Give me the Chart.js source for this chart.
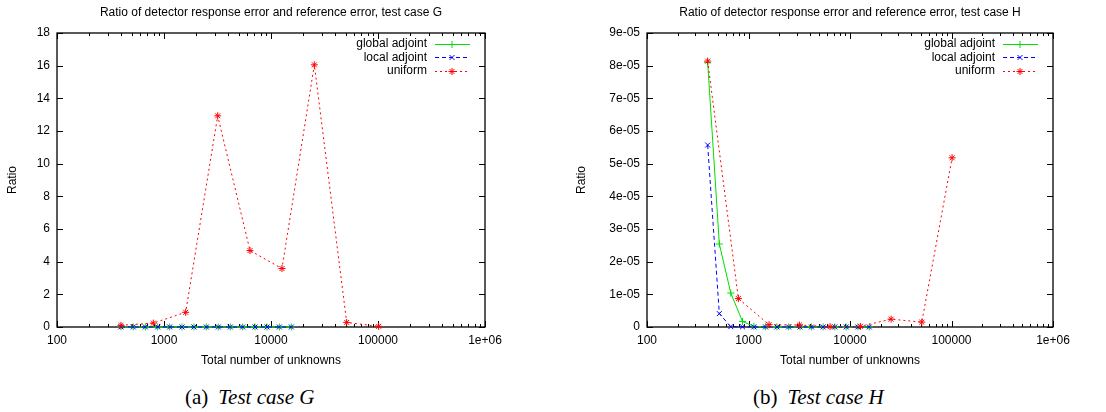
<!DOCTYPE html>
<html lang="en">
<head>
  <meta charset="UTF-8" />
  <title>Ratio of detector response error and reference error</title>
  <script src="https://cdn.jsdelivr.net/npm/chart.js"></script>
  <style>
    body {
      margin: 0;
      background: #ffffff;
      width: 1106px;
      height: 412px;
      position: relative;
      overflow: hidden;
    }

    .panel {
      position: absolute;
      top: 0;
      width: 553px;
      height: 375px;
    }

    .caption {
      position: absolute;
      top: 385px;
      font-family: "Liberation Serif", "DejaVu Serif", serif;
      font-size: 21px;
      line-height: 24px;
      color: #000;
      white-space: nowrap;
    }

    .caption i {
      margin-left: 10px;
    }
  </style>
</head>

<body>

<div class="panel" style="left: 0;">
  <canvas id="chartG" width="553" height="375"></canvas>
</div>
<div class="panel" style="left: 553px;">
  <canvas id="chartH" width="553" height="375"></canvas>
</div>

<div class="caption" style="left: 185px;">(a)<i>Test case G</i></div>
<div class="caption" style="left: 753px;">(b)<i>Test case H</i></div>

<script>
  const FONT = "'Liberation Sans', Arial, sans-serif";

  // total number of unknowns (x)
  const adjointUnknowns = [396, 516, 669, 873, 1130, 1473, 1906, 2487, 3219, 4169, 5436, 7087, 9178, 11968, 15488];
  const uniformUnknowns = [396, 795, 1594, 3176, 6364, 12670, 25410, 50970, 101400];

  // test case G ratios
  const gGlobal = [0.004, 0.003, 0.003, 0.002, 0.002, 0.002, 0.002, 0.002, 0.001, 0.001, 0.001, 0.001, 0.001, 0.001, 0.001];
  const gLocal = [0.004, 0.003, 0.003, 0.002, 0.002, 0.002, 0.002, 0.001, 0.001, 0.001, 0.001, 0.001, 0.001, 0.001, 0.001];
  const gUniform = [0.1, 0.24, 0.9, 12.93, 4.68, 3.58, 16.05, 0.28, 0.04];

  // test case H ratios
  const hGlobal = [8.1e-5, 2.54e-5, 1.04e-5, 1.7e-6, 2e-7, 6e-8, 4e-8, 3e-8, 2e-8, 2e-8, 1e-8, 1e-8, 1e-8, 1e-8, 1e-8];
  const hLocal = [5.57e-5, 4.1e-6, 1e-7, 5e-8, 3e-8, 2e-8, 2e-8, 1e-8, 1e-8, 1e-8, 1e-8, 1e-8, 1e-8, 1e-8, 1e-8];
  const hUniform = [8.14e-5, 8.7e-6, 7e-7, 6e-7, 1e-7, 2e-7, 2.4e-6, 1.5e-6, 5.18e-5];

  const seriesNames = ['global adjoint', 'local adjoint', 'uniform'];

  Chart.defaults.font.family = FONT;
  Chart.defaults.font.size = 12;
  Chart.defaults.color = '#000';
  Chart.defaults.animation = false;

  function pts(xs, ys) {
    return xs.map((x, i) => ({ x: x, y: ys[i] }));
  }

  // gnuplot style %g for the decade labels
  function fmtG(v) {
    if (v >= 1e6) {
      const e = Math.round(Math.log10(v));
      return '1e+' + String(e).padStart(2, '0');
    }
    return String(v);
  }

  function fmtSci(v) {
    if (Math.abs(v) < 1e-12) return '0';
    return v.toExponential(0).replace(/e([+-])(\d+)$/, (m, s, d) => 'e' + s + d.padStart(2, '0'));
  }

  function decadeInfo(v) {
    const e = Math.floor(Math.log10(v) + 1e-9);
    const m = v / Math.pow(10, e);
    return { m: m, whole: Math.abs(m - Math.round(m)) < 1e-6 };
  }

  // border + inward ticks, gnuplot style
  const framePlugin = {
    id: 'frame',
    beforeDatasetsDraw(chart) {
      const { ctx, chartArea: a, scales } = chart;
      const x = scales.x, y = scales.y;
      ctx.save();
      ctx.strokeStyle = '#000';
      ctx.lineWidth = 1;
      ctx.beginPath();
      y.ticks.forEach(t => {
        const py = Math.round(y.getPixelForValue(t.value)) + 0.5;
        ctx.moveTo(a.left, py); ctx.lineTo(a.left + 6, py);
        ctx.moveTo(a.right, py); ctx.lineTo(a.right - 6, py);
      });
      x.ticks.forEach(t => {
        const d = decadeInfo(t.value);
        if (!d.whole) return;
        const len = Math.round(d.m) === 1 ? 6 : 3;
        const px = Math.round(x.getPixelForValue(t.value)) + 0.5;
        ctx.moveTo(px, a.bottom); ctx.lineTo(px, a.bottom - len);
        ctx.moveTo(px, a.top); ctx.lineTo(px, a.top + len);
      });
      ctx.stroke();
      ctx.lineWidth = 1.3;
      ctx.strokeRect(Math.round(a.left), Math.round(a.top), Math.round(a.right - a.left), Math.round(a.bottom - a.top));
      ctx.restore();
    },
    afterDraw(chart) {
      // key: text on the left, sample on the right
      const { ctx, chartArea: a } = chart;
      ctx.save();
      chart.data.datasets.forEach((ds, i) => {
        const cy = a.top + 11 + i * 13.3;
        ctx.font = '12px ' + FONT;
        ctx.fillStyle = '#000';
        ctx.textAlign = 'right';
        ctx.textBaseline = 'middle';
        ctx.fillText(ds.label, a.right - 58, cy);

        ctx.strokeStyle = ds.borderColor;
        ctx.fillStyle = ds.borderColor;
        ctx.lineWidth = ds.borderWidth;
        ctx.setLineDash(ds.borderDash || []);
        ctx.beginPath();
        ctx.moveTo(a.right - 50, Math.round(cy) + 0.5);
        ctx.lineTo(a.right - 15, Math.round(cy) + 0.5);
        ctx.stroke();
        ctx.setLineDash([]);
        Chart.helpers.drawPoint(ctx, {
          pointStyle: ds.pointStyle,
          radius: ds.pointRadius,
          borderWidth: 1,
          rotation: 0
        }, a.right - 33, Math.round(cy) + 0.5);
      });
      ctx.restore();
    }
  };

  function makeDatasets(globalY, localY, uniformY) {
    return [
      {
        label: seriesNames[0],
        data: pts(adjointUnknowns, globalY),
        borderColor: '#00dd00',
        backgroundColor: '#00dd00',
        borderWidth: 1,
        pointStyle: 'cross',
        pointRadius: 3.5,
        pointBorderWidth: 1,
        order: 2,
        clip: false
      },
      {
        label: seriesNames[1],
        data: pts(adjointUnknowns, localY),
        borderColor: '#0000ff',
        backgroundColor: '#0000ff',
        borderWidth: 1,
        borderDash: [4, 3],
        pointStyle: 'crossRot',
        pointRadius: 3.5,
        pointBorderWidth: 1,
        order: 1,
        clip: false
      },
      {
        label: seriesNames[2],
        data: pts(uniformUnknowns, uniformY),
        borderColor: '#ff0000',
        backgroundColor: '#ff0000',
        borderWidth: 1,
        borderDash: [2, 3],
        pointStyle: 'star',
        pointRadius: 3.5,
        pointBorderWidth: 1,
        order: 0,
        clip: false
      }
    ];
  }

  function makeChart(id, cfg) {
    return new Chart(document.getElementById(id), {
      type: 'line',
      data: { datasets: cfg.datasets },
      plugins: [framePlugin],
      options: {
        responsive: false,
        animation: false,
        layout: { padding: { left: 0, right: cfg.padRight, top: 0, bottom: 0 } },
        plugins: {
          legend: { display: false },
          tooltip: { enabled: false },
          title: {
            display: true,
            text: cfg.title,
            fullSize: false,
            color: '#000',
            font: { size: 12, weight: 'normal' },
            padding: { top: 5.5, bottom: 13.1 }
          }
        },
        elements: { line: { tension: 0 } },
        scales: {
          x: {
            type: 'logarithmic',
            min: 100,
            max: 1e6,
            afterFit: s => { s.height = 48; },
            grid: { display: false, drawTicks: false },
            border: { display: false },
            ticks: {
              autoSkip: false,
              maxRotation: 0,
              padding: 6,
              color: '#000',
              callback: v => {
                const d = decadeInfo(v);
                return (d.whole && Math.round(d.m) === 1) ? fmtG(v) : '';
              }
            },
            title: {
              display: true,
              text: 'Total number of unknowns',
              color: '#000',
              font: { size: 12 },
              padding: { top: 0, bottom: 7 }
            }
          },
          y: {
            min: 0,
            max: cfg.yMax,
            afterFit: s => { s.width = cfg.yWidth; },
            grid: { display: false, drawTicks: false },
            border: { display: false },
            ticks: {
              stepSize: cfg.yStep,
              padding: 7,
              color: '#000',
              callback: cfg.yFormat
            },
            title: {
              display: true,
              text: 'Ratio',
              color: '#000',
              font: { size: 12 },
              padding: { top: cfg.yTitlePad, bottom: 0 }
            }
          }
        }
      }
    });
  }

  makeChart('chartG', {
    title: 'Ratio of detector response error and reference error, test case G',
    datasets: makeDatasets(gGlobal, gLocal, gUniform),
    yMax: 18,
    yStep: 2,
    yFormat: v => String(Math.round(v)),
    yWidth: 57,
    yTitlePad: 5.8,
    padRight: 68
  });

  makeChart('chartH', {
    title: 'Ratio of detector response error and reference error, test case H',
    datasets: makeDatasets(hGlobal, hLocal, hUniform),
    yMax: 9e-5,
    yStep: 1e-5,
    yFormat: fmtSci,
    yWidth: 94,
    yTitlePad: 21.8,
    padRight: 53
  });
</script>

</body>
</html>
